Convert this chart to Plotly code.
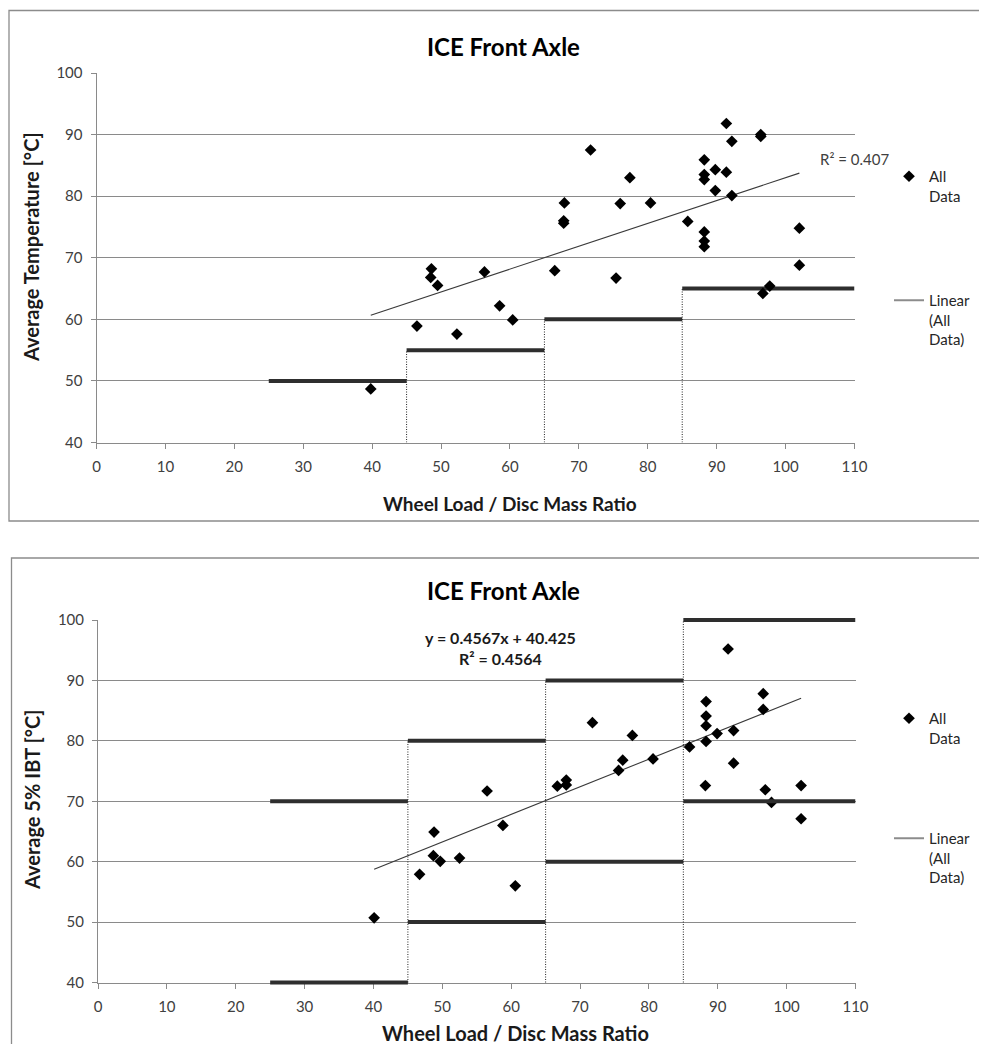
import plotly.graph_objects as go

# ---------------- data ----------------
top_x = [39.8, 46.5, 48.5, 48.6, 49.5, 52.3, 56.3, 58.5, 60.4, 66.5, 67.9, 67.8, 67.8,
         71.7, 77.4, 76.0, 80.4, 75.4, 85.8, 88.2, 88.2, 88.2, 88.2, 88.2, 88.2,
         89.8, 89.8, 91.4, 91.4, 92.2, 92.2, 96.4, 96.4, 96.7, 97.7, 102.0, 102.0]
top_y = [48.7, 58.9, 66.8, 68.2, 65.5, 57.6, 67.7, 62.2, 59.9, 67.9, 78.9, 76.0, 75.6,
         87.5, 83.0, 78.8, 78.9, 66.7, 75.9, 85.9, 83.5, 82.7, 74.2, 72.7, 71.8,
         84.3, 80.9, 91.8, 83.9, 88.9, 80.1, 90.0, 89.7, 64.2, 65.4, 74.8, 68.8]

bot_x = [40.1, 46.7, 48.8, 48.7, 49.7, 52.5, 56.5, 58.8, 60.6, 66.7, 68.0, 68.0, 71.8,
         75.6, 76.2, 77.6, 80.6, 85.9, 88.3, 88.3, 88.3, 88.3, 88.2, 89.9, 91.5,
         92.3, 92.3, 96.6, 96.6, 96.9, 97.8, 102.1, 102.1]
bot_y = [50.7, 57.9, 64.9, 61.0, 60.05, 60.6, 71.7, 66.0, 56.0, 72.5, 73.5, 72.7, 83.0,
         75.1, 76.8, 80.9, 77.0, 79.0, 86.5, 84.1, 82.5, 79.9, 72.6, 81.2, 95.2,
         81.7, 76.3, 87.8, 85.2, 71.9, 69.8, 72.6, 67.1]

# linear trend coefficients (top, bottom from label)
top_slope, top_intercept = 0.371, 45.9
bot_slope, bot_intercept = 0.4567, 40.425
top_r2 = "0.407"
bot_r2 = "0.4564"

# ratio bands and temperature limits
band_edges = [25, 45, 65, 85, 110]
top_limits = [50, 55, 60, 65]
bot_upper = [70, 80, 90, 100]
bot_lower = [40, 50, 60, 70]

y_min, y_max = 40, 100
x_min, x_max = 0, 110

title_text = "ICE Front Axle"
x_title = "Wheel Load / Disc Mass Ratio"
top_y_title = "Average Temperature [°C]"
bot_y_title = "Average 5% IBT [°C]"

# ---------------- styling ----------------
FONT = "Lato, Carlito, Calibri, 'Open Sans', sans-serif"
OFF = 8                      # page body margin
W, H = 987 - 2 * OFF, 1052 - 2 * OFF
GRID = "#8a8a8a"
TXT = "#404040"
STEP = "#2e2e2e"


def px_x(p):
    return (p - OFF) / W


def px_y(p):
    return 1 - (p - OFF) / H


def step_xy(levels):
    xs, ys = [], []
    for i, lv in enumerate(levels):
        xs += [band_edges[i], band_edges[i + 1], None]
        ys += [lv, lv, None]
    return xs, ys


def vert_xy(tops):
    xs, ys = [], []
    for i in range(1, len(band_edges) - 1):
        xs += [band_edges[i], band_edges[i], None]
        ys += [y_min, tops[i], None]
    return xs, ys


# plot-area pixel boxes (reference image coordinates)
top_box = dict(l=96.5, r=854.5, t=73, b=442.5)
bot_box = dict(l=98, r=855.5, t=620, b=982.5)
EXT = 8  # extra pixels for unclipped overlay axis

fig = go.Figure()

DOT = dict(color="#222", width=1, dash="1px,1.5px")

# ---- top chart ----
sx, sy = step_xy(top_limits)
fig.add_trace(go.Scatter(x=sx, y=sy, mode="lines", line=dict(color=STEP, width=4),
                         showlegend=False, hoverinfo="skip", xaxis="x", yaxis="y"))
vx, vy = vert_xy(top_limits)
fig.add_trace(go.Scatter(x=vx, y=vy, mode="lines", line=DOT,
                         showlegend=False, hoverinfo="skip", xaxis="x", yaxis="y"))
tx = [min(top_x), max(top_x)]
fig.add_trace(go.Scatter(x=tx, y=[top_slope * v + top_intercept for v in tx], mode="lines",
                         line=dict(color="#3a3a3a", width=1.1), showlegend=False,
                         xaxis="x", yaxis="y"))
fig.add_trace(go.Scatter(x=top_x, y=top_y, mode="markers",
                         marker=dict(symbol="diamond", size=9, color="black"),
                         name="All<br>Data", xaxis="x", yaxis="y", legend="legend"))
fig.add_trace(go.Scatter(x=[None], y=[None], mode="lines", line=dict(color="#8c8c8c", width=2),
                         name="Linear<br>(All<br>Data)", xaxis="x", yaxis="y", legend="legend2"))

# ---- bottom chart ----
bx = [min(bot_x), max(bot_x)]
fig.add_trace(go.Scatter(x=bx, y=[bot_slope * v + bot_intercept for v in bx], mode="lines",
                         line=dict(color="#3a3a3a", width=1.1), showlegend=False,
                         xaxis="x2", yaxis="y2"))
fig.add_trace(go.Scatter(x=bot_x, y=bot_y, mode="markers",
                         marker=dict(symbol="diamond", size=9, color="black"),
                         name="All<br>Data", xaxis="x2", yaxis="y2", legend="legend3"))
fig.add_trace(go.Scatter(x=[None], y=[None], mode="lines", line=dict(color="#8c8c8c", width=2),
                         name="Linear<br>(All<br>Data)", xaxis="x2", yaxis="y2", legend="legend4"))
for lv in (bot_upper, bot_lower):
    sx, sy = step_xy(lv)
    fig.add_trace(go.Scatter(x=sx, y=sy, mode="lines", line=dict(color=STEP, width=4),
                             showlegend=False, hoverinfo="skip", xaxis="x2", yaxis="y3"))
vx, vy = vert_xy(bot_upper)
fig.add_trace(go.Scatter(x=vx, y=vy, mode="lines", line=DOT,
                         showlegend=False, hoverinfo="skip", xaxis="x2", yaxis="y3"))

axis_common = dict(showline=True, linecolor=GRID, linewidth=1, ticks="outside", ticklen=5,
                   tickcolor=GRID, tickwidth=1, tickfont=dict(family=FONT, size=15, color=TXT),
                   zeroline=False, fixedrange=True, automargin=False)
xax = dict(range=[x_min, x_max], dtick=10, tick0=0, showgrid=False, ticklabelstandoff=5,
           **axis_common)
yax = dict(range=[y_min, y_max], dtick=10, tick0=40, showgrid=True, gridcolor=GRID,
           gridwidth=1, ticklabelstandoff=5, **axis_common)

legend_common = dict(xanchor="left", yanchor="top", bgcolor="rgba(0,0,0,0)",
                     font=dict(family=FONT, size=15, color="#262626"), valign="top",
                     itemwidth=30, borderwidth=0)

ppu_bot = (bot_box["b"] - bot_box["t"]) / (y_max - y_min)

fig.update_layout(
    width=W, height=H, margin=dict(l=0, r=0, t=0, b=0, autoexpand=False),
    paper_bgcolor="white", plot_bgcolor="rgba(0,0,0,0)",
    font=dict(family=FONT),
    xaxis=dict(domain=[px_x(top_box["l"]), px_x(top_box["r"])], anchor="y", **xax),
    yaxis=dict(domain=[px_y(top_box["b"]), px_y(top_box["t"])], anchor="x", **yax),
    xaxis2=dict(domain=[px_x(bot_box["l"]), px_x(bot_box["r"])], anchor="y2", **xax),
    yaxis2=dict(domain=[px_y(bot_box["b"]), px_y(bot_box["t"])], anchor="x2", **yax),
    yaxis3=dict(domain=[px_y(bot_box["b"] + EXT), px_y(bot_box["t"] - EXT)], anchor="x2",
                range=[y_min - EXT / ppu_bot, y_max + EXT / ppu_bot], visible=False,
                showgrid=False, zeroline=False, fixedrange=True, automargin=False),
    legend=dict(x=px_x(889), y=px_y(160), **legend_common),
    legend2=dict(x=px_x(889), y=px_y(284), **legend_common),
    legend3=dict(x=px_x(889), y=px_y(702), **legend_common),
    legend4=dict(x=px_x(889), y=px_y(822), **legend_common),
    showlegend=True,
)

# chart borders
fig.add_shape(type="rect", xref="paper", yref="paper", x0=px_x(9), x1=1.02,
              y0=px_y(521), y1=px_y(10.5), line=dict(color="#8c8c8c", width=1.3))
fig.add_shape(type="rect", xref="paper", yref="paper", x0=px_x(11.5), x1=1.02,
              y0=-0.03, y1=px_y(558), line=dict(color="#8c8c8c", width=1.3))

ann = []
for yc in (46, 590):
    ann.append(dict(text=f"<b>{title_text}</b>", x=px_x(503), y=px_y(yc), xref="paper",
                    yref="paper", showarrow=False, xanchor="center", yanchor="middle",
                    font=dict(family=FONT, size=24, color="black")))
ann.append(dict(text=f"<b>{x_title}</b>", x=px_x(510), y=px_y(504), xref="paper",
                yref="paper", showarrow=False, xanchor="center", yanchor="middle",
                font=dict(family=FONT, size=19, color="#1a1a1a")))
ann.append(dict(text=f"<b>{x_title}</b>", x=px_x(516), y=px_y(1033), xref="paper",
                yref="paper", showarrow=False, xanchor="center", yanchor="middle",
                font=dict(family=FONT, size=20, color="#1a1a1a")))
ann.append(dict(text=f"<b>{top_y_title}</b>", x=px_x(31), y=px_y(247), xref="paper",
                yref="paper", showarrow=False, textangle=-90, xanchor="center",
                yanchor="middle", font=dict(family=FONT, size=20, color="#1a1a1a")))
ann.append(dict(text=f"<b>{bot_y_title}</b>", x=px_x(32), y=px_y(800), xref="paper",
                yref="paper", showarrow=False, textangle=-90, xanchor="center",
                yanchor="middle", font=dict(family=FONT, size=20, color="#1a1a1a")))
ann.append(dict(text=f"R² = {top_r2}", x=px_x(818), y=px_y(159), xref="paper", yref="paper",
                showarrow=False, xanchor="left", yanchor="middle",
                font=dict(family=FONT, size=15, color=TXT)))
ann.append(dict(text=f"<b>y = {bot_slope}x + {bot_intercept}</b><br><b>R² = {bot_r2}</b>",
                x=px_x(500), y=px_y(648), xref="paper", yref="paper", showarrow=False,
                xanchor="center", yanchor="middle", align="center",
                font=dict(family=FONT, size=16, color="#1a1a1a")))
fig.update_layout(annotations=ann)

fig.write_html("out.html")
